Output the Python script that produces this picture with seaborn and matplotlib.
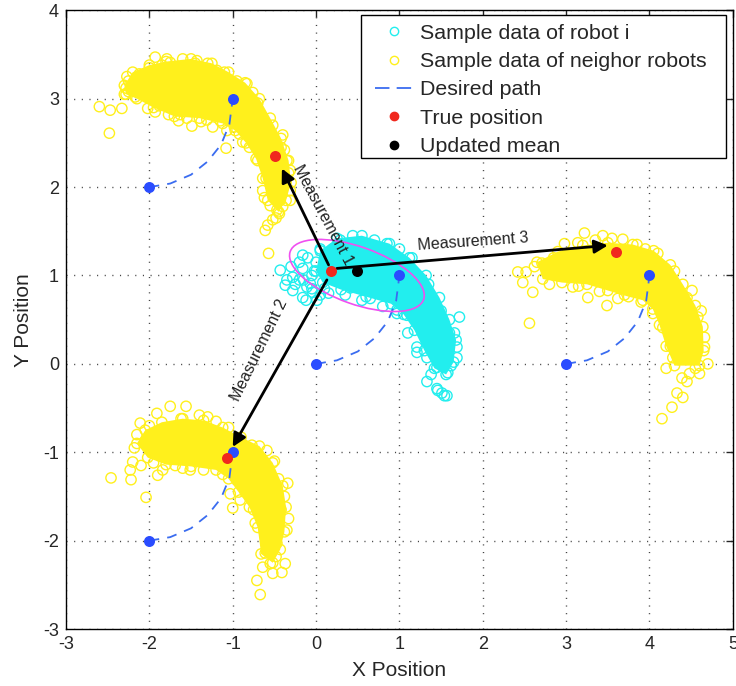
import numpy as np
import pandas as pd
import matplotlib
matplotlib.use("Agg")
import matplotlib.pyplot as plt
from matplotlib.patches import Ellipse, Rectangle
from matplotlib.lines import Line2D
import seaborn as sns

# ---------------- data ----------------
# neighbour cloud A (around (-1, 3))
cloudA_x = [-1.93, -1.79, -2.27, -2.20, -2.60, -2.47, -2.33, -2.48, -2.17, -2.02, -1.93, -1.77, -1.63,
            -1.49, -1.31, -1.24, -1.07, -1.08, -1.43, -1.19, -0.88, -0.35, -0.33, -0.55, -0.43, -0.48,
            -0.58, -0.61, -0.57, -0.64, -0.31, -0.47, -0.52, -0.40, -0.31, -0.31, -1.75, -2.08, -0.83,
            -0.76, -0.44, -2.30, -2.28, -2.00, -1.60, -1.30, -1.10, -0.95, -0.70, -0.52, -0.42, -0.60,
            -0.70, -0.80, -2.25, -2.25, -2.12, -1.88, -1.55, -1.45, -1.65, -1.38, -0.98, -0.65, -0.38,
            -0.36, -0.62, -0.74, -1.85, -1.55, -1.15, -0.92, -0.50, -0.40, -0.56]
cloudA_y = [3.47, 3.45, 3.25, 3.13, 2.91, 2.87, 2.89, 2.61, 3.02, 2.89, 2.85, 2.82, 2.82,
            2.69, 2.76, 2.68, 2.64, 2.44, 3.43, 3.32, 2.51, 2.30, 2.16, 1.79, 1.85, 1.65,
            1.57, 1.51, 1.25, 1.96, 1.96, 1.74, 1.63, 2.59, 2.19, 1.85, 3.41, 3.17, 3.17,
            3.07, 1.70, 3.05, 3.12, 3.35, 3.45, 3.40, 3.30, 3.20, 2.95, 2.70, 2.45, 2.10,
            2.30, 2.45, 3.20, 3.08, 3.28, 2.92, 2.78, 3.40, 2.75, 2.74, 2.68, 2.58, 2.42,
            2.05, 1.88, 2.62, 3.38, 3.30, 2.75, 2.60, 1.95, 1.78, 2.50]
coreA_x = [-2.30, -2.20, -2.00, -1.80, -1.50, -1.25, -1.05, -0.85, -0.68, -0.55, -0.42, -0.33, -0.30,
           -0.36, -0.45, -0.58, -0.64, -0.72, -0.84, -0.97, -1.12, -1.40, -1.70, -1.95, -2.15, -2.28]
coreA_y = [3.15, 3.30, 3.38, 3.42, 3.45, 3.40, 3.30, 3.18, 3.00, 2.78, 2.55, 2.30, 2.05,
           1.85, 1.72, 1.85, 2.10, 2.32, 2.50, 2.64, 2.72, 2.78, 2.80, 2.90, 3.00, 3.05]

# neighbour cloud B (around (-1, -1))
cloudB_x = [-1.75, -1.56, -1.91, -2.11, -2.20, -2.23, -2.46, -2.22, -2.04, -1.51, -1.69, -1.90, -1.84,
            -1.30, -1.00, -0.73, -0.33, -0.71, -0.67, -0.52, -0.41, -0.37, -0.55, -0.61, -0.77, -0.59,
            -0.91, -1.03, -0.35, -0.47, -1.20, -1.05, -2.15, -2.18, -0.50, -0.45, -0.38, -1.35, -0.85,
            -0.75, -0.50, -2.10, -2.00, -1.95, -1.40, -1.62, -0.62, -0.42, -0.34, -0.48, -0.64, -0.88,
            -1.12, -1.60]
cloudB_y = [-0.48, -0.48, -0.56, -0.67, -1.11, -1.20, -1.29, -1.31, -1.51, -1.20, -1.15, -1.26, -1.20,
            -0.60, -1.63, -1.80, -1.75, -2.45, -2.61, -2.37, -2.36, -2.26, -2.26, -2.14, -0.92, -0.98,
            -1.54, -1.47, -1.88, -2.03, -0.65, -0.72, -0.80, -0.95, -1.10, -1.30, -1.50, -1.20, -1.45,
            -1.65, -1.95, -1.15, -0.70, -1.12, -0.58, -0.62, -1.90, -1.65, -1.35, -2.18, -2.30, -1.35,
            -1.25, -1.18]
coreB_x = [-2.15, -2.05, -1.85, -1.60, -1.35, -1.12, -0.90, -0.68, -0.52, -0.40, -0.36, -0.38, -0.43,
           -0.52, -0.66, -0.70, -0.80, -0.93, -1.05, -1.20, -1.50, -1.80, -2.02]
coreB_y = [-0.90, -0.75, -0.66, -0.62, -0.64, -0.72, -0.83, -0.93, -1.12, -1.38, -1.62, -1.90, -2.10,
           -2.25, -2.15, -1.85, -1.62, -1.45, -1.30, -1.20, -1.16, -1.14, -1.06]

# neighbour cloud C (around (4, 1))
cloudC_x = [2.42, 2.52, 2.48, 2.60, 2.56, 2.71, 2.98, 3.22, 3.44, 3.68, 3.14, 3.26, 3.49, 3.62, 3.08,
            4.51, 4.58, 4.66, 4.70, 4.60, 4.48, 4.39, 4.33, 4.40, 4.27, 4.15, 4.28, 4.16, 4.04, 2.85,
            3.00, 2.90, 3.85, 4.10, 4.30, 4.45, 3.90, 3.70, 4.20, 4.45, 4.55, 2.62, 2.80, 3.35, 3.55,
            3.95, 4.62, 4.66, 4.25, 3.40, 3.15, 4.05]
cloudC_y = [1.04, 1.04, 0.92, 0.81, 0.46, 1.14, 1.36, 1.48, 1.45, 1.41, 1.37, 0.75, 0.66, 0.74, 0.87,
            0.83, 0.53, 0.19, 0.00, -0.11, -0.11, -0.16, -0.33, -0.38, -0.49, -0.62, 0.07, 0.41, 0.57, 1.20,
            1.05, 1.00, 1.35, 1.25, 1.05, 0.75, 0.70, 0.78, -0.05, -0.20, -0.05, 1.10, 0.90, 1.40, 1.42,
            1.30, 0.60, 0.30, 0.20, 0.82, 0.88, 0.70]
coreC_x = [2.65, 2.90, 3.20, 3.50, 3.80, 4.05, 4.25, 4.40, 4.55, 4.64, 4.65, 4.60,
           4.30, 4.20, 4.12, 4.04, 3.92, 3.75, 3.50, 3.25, 2.95, 2.72]
coreC_y = [1.15, 1.27, 1.34, 1.37, 1.35, 1.28, 1.12, 0.90, 0.66, 0.42, 0.15, -0.02,
           -0.02, 0.20, 0.44, 0.62, 0.72, 0.76, 0.83, 0.90, 0.92, 0.96]

# robot i cloud (around (1, 1))
cloudD_x = [-0.43, -0.37, -0.28, -0.16, -0.07, 0.01, 0.41, 0.65, 0.97, 1.09, 1.72, 1.00, 0.85, 0.29,
            0.44, 1.21, 1.33, 1.45, 1.33, 1.45, 1.51, 1.57, 1.58, 1.69, 1.69, 1.66, -0.16, -0.28, 1.21,
            1.46, 1.54, 0.97, -0.16, -0.11, -0.04, 0.00, -0.05, 0.10, 0.20, 0.05, -0.20, 0.70, 1.15,
            1.35, 1.50, 1.60, 1.55, 1.25, 1.10, 0.80, 0.15, 0.35, 0.55, 1.38, 1.62, 1.40,
            -0.30, -0.20, -0.10, -0.35, -0.25, -0.15, -0.05, 0.05, -0.12, 0.10, -0.02]
cloudD_y = [1.06, 0.89, 0.83, 0.75, 0.91, 0.72, 0.86, 0.74, 0.57, 0.55, 0.53, 1.30, 1.36, 1.40,
            1.45, 0.19, 0.07, -0.04, -0.20, -0.28, -0.33, -0.36, -0.10, 0.07, 0.19, 0.35, 1.23, 0.98, 0.13,
            -0.30, -0.36, 0.61, 1.08, 0.87, 0.81, 1.15, 1.00, 0.85, 1.30, 1.30, 0.95, 1.40, 1.20,
            0.90, 0.60, 0.35, 0.10, 0.45, 0.35, 0.65, 0.80, 0.78, 0.72, -0.12, -0.02, 0.28,
            1.10, 1.15, 1.20, 0.95, 0.90, 0.95, 0.85, 0.78, 0.72, 1.10, 1.05]
coreD_x = [0.00, 0.05, 0.25, 0.55, 0.88, 1.12, 1.32, 1.48, 1.60, 1.68, 1.65, 1.56, 1.42, 1.30, 1.18,
           1.05, 0.90, 0.60, 0.30, 0.08]
coreD_y = [1.05, 1.28, 1.42, 1.45, 1.36, 1.20, 1.00, 0.75, 0.50, 0.27, 0.02, -0.12, -0.05, 0.15, 0.38,
           0.56, 0.68, 0.76, 0.84, 0.92]

# desired paths
path1_x = [-2.0, -1.75, -1.5, -1.3, -1.14, -1.04, -1.0]
path1_y = [2.0, 2.04, 2.14, 2.29, 2.48, 2.71, 3.0]
path2_x = [0.0, 0.25, 0.5, 0.7, 0.86, 0.96, 1.0]
path2_y = [0.0, 0.04, 0.14, 0.29, 0.48, 0.71, 1.0]
path3_x = [3.0, 3.25, 3.5, 3.7, 3.86, 3.96, 4.0]
path3_y = [0.0, 0.04, 0.14, 0.29, 0.48, 0.71, 1.0]
path4_x = [-2.0, -1.75, -1.5, -1.3, -1.14, -1.04, -1.0]
path4_y = [-2.0, -1.96, -1.86, -1.71, -1.52, -1.29, -1.0]

# path end points
ends_x = [-2, -1, 0, 1, 3, 4, -2, -1]
ends_y = [2, 3, 0, 1, 0, 1, -2, -1]

# true positions and updated mean
true_x = [-0.49, 0.18, 3.60, -1.07]
true_y = [2.35, 1.05, 1.26, -1.06]
mean_x = [0.49]
mean_y = [1.05]

# covariance ellipse: centre, full width, full height, angle
ell_center = (0.49, 1.0)
ell_size = (1.69, 0.65)
ell_angle = -18.4

# measurements: start, end, label, label position, rotation
meas_start = [(0.15, 1.12), (0.13, 0.95), (0.25, 1.08)]
meas_end = [(-0.41, 2.21), (-1.00, -0.94), (3.50, 1.34)]
meas_label = ["Measurement 1", "Measurement 2", "Measurement 3"]
meas_text_pos = [(0.08, 1.68), (-0.68, 0.16), (1.89, 1.38)]
meas_rot = [-62, 64, 4]

x_ticks = [-3, -2, -1, 0, 1, 2, 3, 4, 5]
y_ticks = [-3, -2, -1, 0, 1, 2, 3, 4]

# ---------------- style ----------------
sns.set_style("white")
plt.rcParams["font.family"] = ["Liberation Sans", "DejaVu Sans"]
plt.rcParams["axes.unicode_minus"] = False

YEL = "#fff01c"
CYA = "#22eeee"
BLU = "#2a4cff"
DASHBLU = "#3a6cf0"
RED = "#f0281e"

fig = plt.figure(figsize=(7.36, 6.86), dpi=100)
ax = fig.add_axes([0.0897, 0.083, 0.906, 0.902])

ax.set_xlim(-3, 5)
ax.set_ylim(-3, 4)
ax.set_xticks(x_ticks)
ax.set_yticks(y_ticks)
ax.grid(True, color="#444444", linestyle=(0, (0.8, 4.7)), linewidth=1.0)
ax.set_axisbelow(True)

clouds = [(cloudA_x, cloudA_y, coreA_x, coreA_y, YEL),
          (cloudB_x, cloudB_y, coreB_x, coreB_y, YEL),
          (cloudC_x, cloudC_y, coreC_x, coreC_y, YEL),
          (cloudD_x, cloudD_y, coreD_x, coreD_y, CYA)]

for xs, ys, cx, cy, col in clouds:
    ax.fill(cx, cy, color=col, lw=0, zorder=2)
    sns.scatterplot(x=xs + cx, y=ys + cy, ax=ax, marker="o", s=55, facecolors="none",
                    edgecolor=col, linewidth=1.0, zorder=3, legend=False)

# desired paths
for px_, py_ in [(path1_x, path1_y), (path2_x, path2_y), (path3_x, path3_y), (path4_x, path4_y)]:
    sns.lineplot(x=px_, y=py_, ax=ax, sort=False, estimator=None, color=DASHBLU,
                 linewidth=1.3, linestyle=(0, (5.5, 4.5)), zorder=4)

# ellipse
ax.add_patch(Ellipse(ell_center, ell_size[0], ell_size[1], angle=ell_angle,
                     fill=False, edgecolor="#f050f0", linewidth=1.2, zorder=4))

# arrows
for st, en in zip(meas_start, meas_end):
    ax.annotate("", xy=en, xytext=st,
                arrowprops=dict(arrowstyle="-|>", color="black", lw=2,
                                mutation_scale=20, shrinkA=0, shrinkB=0), zorder=6)
for lab, pos, rot in zip(meas_label, meas_text_pos, meas_rot):
    ax.text(pos[0], pos[1], lab, rotation=rot, ha="center", va="center",
            fontsize=11.5, color="#222222", rotation_mode="anchor", zorder=7)

# points
sns.scatterplot(x=ends_x, y=ends_y, ax=ax, marker="o", s=45, color=BLU,
                edgecolor=BLU, linewidth=1.2, zorder=5, legend=False)
sns.scatterplot(x=true_x, y=true_y, ax=ax, marker="o", s=45, color=RED,
                edgecolor=RED, linewidth=1.2, zorder=8, legend=False)
sns.scatterplot(x=mean_x, y=mean_y, ax=ax, marker="o", s=45, color="black",
                edgecolor="black", linewidth=1.2, zorder=8, legend=False)

# axes styling
for sp in ax.spines.values():
    sp.set_visible(True)
    sp.set_color("black")
    sp.set_linewidth(1.0)
ax.tick_params(direction="in", top=True, right=True, length=5, width=1,
               labelsize=13, pad=5)
ax.set_xlabel("X Position", fontsize=15, labelpad=6)
ax.set_ylabel("Y Position", fontsize=15, labelpad=7)

handles = [
    Line2D([], [], linestyle="none", marker="o", markersize=6, markerfacecolor="none",
           markeredgecolor=CYA, markeredgewidth=1.0),
    Line2D([], [], linestyle="none", marker="o", markersize=6, markerfacecolor="none",
           markeredgecolor=YEL, markeredgewidth=1.0),
    Line2D([], [], color=DASHBLU, linewidth=1.3, linestyle=(0, (8, 4))),
    Line2D([], [], linestyle="none", marker="o", markersize=6, color=RED),
    Line2D([], [], linestyle="none", marker="o", markersize=6, color="black"),
]
labels = ["Sample data of robot i", "Sample data of neighor robots", "Desired path",
          "True position", "Updated mean"]

# legend frame (box drawn separately so the padding matches)
ax.add_patch(Rectangle((0.442, 0.761), 0.548, 0.231, transform=ax.transAxes,
                       facecolor="white", edgecolor="black", linewidth=1.0, zorder=9))
leg = ax.legend(handles, labels, loc="upper left", bbox_to_anchor=(0.457, 0.985),
                borderaxespad=0, fontsize=15.4, frameon=False,
                handlelength=1.73, handletextpad=0.37,
                labelspacing=0.435, borderpad=0.2)
leg.set_zorder(10)

fig.savefig("out.png", dpi=100)
